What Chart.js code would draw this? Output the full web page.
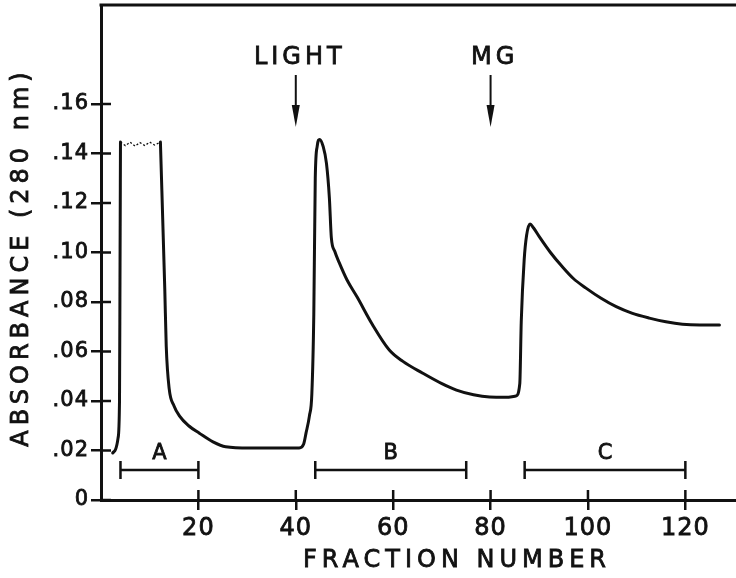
<!DOCTYPE html>
<html>
<head>
<meta charset="utf-8">
<script src="https://cdn.jsdelivr.net/npm/chart.js@4"></script>
<style>
  html, body { margin: 0; padding: 0; background: #fff; }
</style>
</head>
<body>
<canvas id="chart" width="736" height="578"></canvas>
<script>
// elution profile, fraction number vs absorbance at 280 nm
const fraction = [
  2.4, 3.0, 3.5, 3.8, 3.9, 4.0, 8.0, 12.2, 13.1, 13.4, 14.0, 15.0, 16.1, 18, 20.2, 23, 25.6, 30.5, 35, 40.7,
  41.6, 42.1, 42.8, 43.3, 43.7, 44.0, 44.4, 44.9, 45.6, 46.3, 46.9, 47.3, 48.0, 48.9, 50.5, 52.6, 55.7, 59.2, 62, 66, 70,
  73, 76.5, 79.8, 83, 85.2, 86.0, 86.3, 86.9, 87.4, 88.1, 88.8, 90.0, 92.3, 94.7, 97, 99.6, 102.7, 105.8, 109, 112.6,
  116, 119.4, 123, 127
];
const absorbance = [
  0.019, 0.0205, 0.025, 0.04, 0.09, 0.1446, null, 0.1446, 0.085, 0.062, 0.045, 0.038, 0.034, 0.030, 0.027, 0.0235, 0.0215, 0.021, 0.021, 0.021,
  0.0225, 0.027, 0.034, 0.043, 0.075, 0.13, 0.143, 0.1457, 0.143, 0.136, 0.122, 0.106, 0.1005, 0.096, 0.089, 0.082, 0.071, 0.0606, 0.056, 0.0513, 0.047,
  0.0444, 0.0425, 0.0416, 0.0415, 0.042, 0.047, 0.072, 0.097, 0.107, 0.1115, 0.110, 0.1064, 0.100, 0.0943, 0.0895, 0.0856, 0.0815, 0.0781, 0.0755, 0.0735,
  0.0720, 0.071, 0.0707, 0.0707
];

// off-scale (saturated) top of the first peak
const plateauFraction = [4.0, 5.0, 6.0, 7.0, 8.0, 9.0, 10.0, 11.0, 12.2];
const plateauAbsorbance = [0.1446, 0.1432, 0.1446, 0.1430, 0.1444, 0.1432, 0.1446, 0.1434, 0.1446];

// tick marks
const xTicks = [20, 40, 60, 80, 100, 120];
const yTicks = [0, 0.02, 0.04, 0.06, 0.08, 0.10, 0.12, 0.14, 0.16];

// pooled fractions
const poolLabels = ["A", "B", "C"];
const poolFrom = [4, 44, 87];
const poolTo = [20, 75, 120];

// additions
const eventLabels = ["LIGHT", "MG"];
const eventFraction = [40, 80];

const ink = "#111";
const font = '"DejaVu Sans", sans-serif';

// fill + thin stroke so the lettering is a bit heavier, like the print
function inkText(ctx, text, x, y) {
  ctx.strokeText(text, x, y);
  ctx.fillText(text, x, y);
}

const decor = {
  id: "decor",
  beforeDraw(chart) {
    chart.ctx.letterSpacing = "1px";
  },
  afterDraw(chart) {
    const { ctx, chartArea: area, scales: { x, y } } = chart;
    ctx.save();
    ctx.strokeStyle = ink;
    ctx.fillStyle = ink;
    ctx.lineCap = "butt";

    // top frame
    ctx.lineWidth = 3;
    ctx.beginPath();
    ctx.moveTo(area.left - 1.5, area.top);
    ctx.lineTo(area.right, area.top);
    ctx.stroke();

    // inner half of the cross ticks
    ctx.lineWidth = 2.5;
    y.ticks.forEach((t, i) => {
      const py = y.getPixelForTick(i);
      ctx.beginPath(); ctx.moveTo(area.left, py); ctx.lineTo(area.left + 10, py); ctx.stroke();
    });
    x.ticks.forEach((t, i) => {
      const px = x.getPixelForTick(i);
      ctx.beginPath(); ctx.moveTo(px, area.bottom); ctx.lineTo(px, area.bottom - 10); ctx.stroke();
    });

    // pool bars
    const barY = area.bottom - 30;
    ctx.font = "21px " + font;
    ctx.letterSpacing = "0px";
    ctx.textAlign = "center";
    ctx.textBaseline = "middle";
    poolLabels.forEach((lab, i) => {
      const x0 = x.getPixelForValue(poolFrom[i]);
      const x1 = x.getPixelForValue(poolTo[i]);
      ctx.lineWidth = 2.5;
      ctx.beginPath();
      ctx.moveTo(x0, barY); ctx.lineTo(x1, barY);
      ctx.moveTo(x0, barY - 9); ctx.lineTo(x0, barY + 9);
      ctx.moveTo(x1, barY - 9); ctx.lineTo(x1, barY + 9);
      ctx.stroke();
      ctx.lineWidth = 0.8;
      inkText(ctx, lab, (x0 + x1) / 2, barY - 16);
    });

    // event arrows
    ctx.font = "24px " + font;
    ctx.letterSpacing = "4px";
    eventLabels.forEach((lab, i) => {
      const px = x.getPixelForValue(eventFraction[i]);
      ctx.lineWidth = 0.8;
      inkText(ctx, lab, px + 4, area.top + 53);
      ctx.lineWidth = 2;
      ctx.beginPath();
      ctx.moveTo(px, area.top + 70); ctx.lineTo(px, area.top + 102);
      ctx.stroke();
      ctx.beginPath();
      ctx.moveTo(px - 4, area.top + 100);
      ctx.lineTo(px + 4, area.top + 100);
      ctx.lineTo(px, area.top + 122);
      ctx.closePath();
      ctx.fill();
    });

    // axis titles
    ctx.font = "24px " + font;
    ctx.letterSpacing = "5px";
    ctx.lineWidth = 0.8;
    inkText(ctx, "FRACTION NUMBER", area.left + 356, 561);
    ctx.translate(22, 257);
    ctx.rotate(-Math.PI / 2);
    inkText(ctx, "ABSORBANCE (280 nm)", 0, 0);
    ctx.restore();
  }
};

new Chart(document.getElementById("chart"), {
  type: "line",
  data: {
    datasets: [
      {
        label: "Absorbance",
        data: fraction.map((f, i) => ({ x: f, y: absorbance[i] })),
        borderColor: ink,
        borderWidth: 3,
        pointRadius: 0,
        cubicInterpolationMode: "monotone",
        borderJoinStyle: "round",
        borderCapStyle: "round",
        spanGaps: false
      },
      {
        label: "Off scale",
        data: plateauFraction.map((f, i) => ({ x: f, y: plateauAbsorbance[i] })),
        borderColor: ink,
        borderWidth: 1.3,
        borderDash: [2, 2],
        pointRadius: 0,
        tension: 0
      }
    ]
  },
  options: {
    responsive: false,
    animation: false,
    layout: { padding: { top: 5, right: 0, left: 0, bottom: 0 } },
    plugins: {
      legend: { display: false },
      tooltip: { enabled: false }
    },
    scales: {
      x: {
        type: "linear",
        min: 0,
        max: 130.4,
        afterBuildTicks: (s) => { s.ticks = xTicks.map(v => ({ value: v })); },
        afterFit: (s) => { s.height = 78; s.paddingLeft = 0; s.paddingRight = 0; },
        ticks: {
          autoSkip: false,
          color: ink,
          textStrokeColor: ink,
          textStrokeWidth: 0.8,
          padding: 4,
          maxRotation: 0,
          font: { family: font, size: 24 }
        },
        grid: { drawOnChartArea: false, color: ink, lineWidth: 2.5, tickLength: 10 },
        border: { color: ink, width: 3 }
      },
      y: {
        min: 0,
        max: 0.2,
        afterBuildTicks: (s) => { s.ticks = yTicks.map(v => ({ value: v })); },
        afterFit: (s) => { s.width = 101; s.paddingTop = 0; s.paddingBottom = 0; },
        ticks: {
          autoSkip: false,
          color: ink,
          textStrokeColor: ink,
          textStrokeWidth: 0.8,
          padding: 2,
          font: { family: font, size: 21 },
          callback: (v) => v === 0 ? "0" : v.toFixed(2).replace(/^0/, "")
        },
        grid: { drawOnChartArea: false, color: ink, lineWidth: 2.5, tickLength: 10 },
        border: { color: ink, width: 3 }
      }
    }
  },
  plugins: [decor]
});
</script>
</body>
</html>
